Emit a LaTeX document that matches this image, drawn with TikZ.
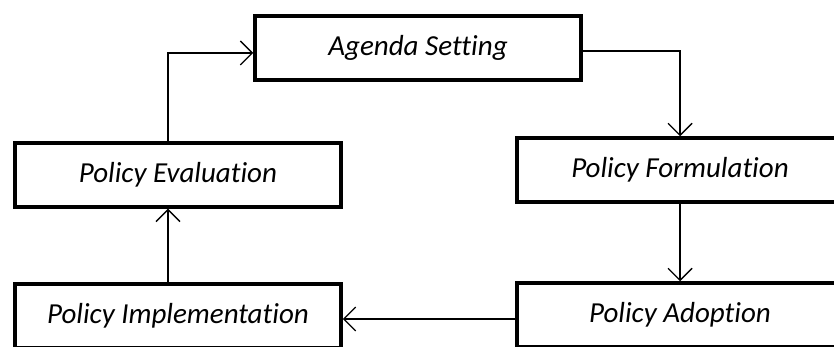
\documentclass[tikz,border=0pt]{standalone}
\usepackage{fontspec}
\setmainfont[Ligatures=NoCommon]{Carlito}
\usetikzlibrary{arrows.meta,positioning}

\begin{document}
\begin{tikzpicture}[x=1pt,y=1pt,
  stage/.style={draw,line width=3.5pt,fill=white,minimum width=326pt,minimum height=64pt,font=\fontsize{29}{34}\selectfont\itshape},
  link/.style={-{Straight Barb[length=12pt,width=24pt,line width=1.4pt]},line width=1.4pt}]
  \clip (0,0) rectangle (834,347);
  \useasboundingbox (0,0) rectangle (834,347);
  \node[stage] (agenda) at (418,299) {Agenda Setting};
  \node[stage] (evaluation) at (178,172) {Policy Evaluation};
  \node[stage] (formulation) at (680,177) {Policy Formulation};
  \node[stage] (implementation) at (178,31) {Policy Implementation};
  \node[stage] (adoption) at (680,32) {Policy Adoption};

  \draw[link] ([xshift=-10pt]evaluation.north) |- ([yshift=-5pt]agenda.west);
  \draw[link] ([yshift=-3pt]agenda.east) -| (formulation.north);
  \draw[link] (formulation.south) -- (adoption.north);
  \draw[link] ([yshift=-4pt]adoption.west) -- ([yshift=-3pt]implementation.east);
  \draw[link] ([xshift=-10pt]implementation.north) -- ([xshift=-10pt]evaluation.south);
\end{tikzpicture}
\end{document}
